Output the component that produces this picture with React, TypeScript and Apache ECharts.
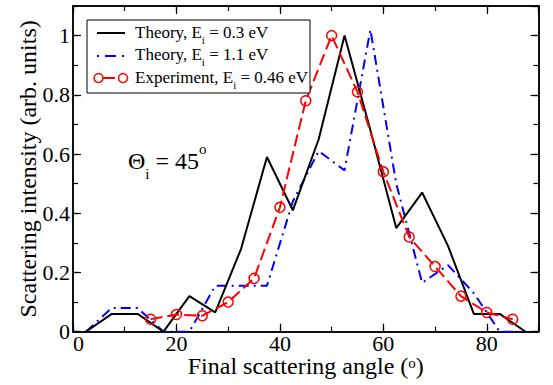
import React, { useEffect, useRef } from "react";
import * as echarts from "echarts";

// Theory curves are binned at 5-degree steps centred on 2.5, 7.5, ...
const theoryAngles = [2.5, 7.5, 12.5, 17.5, 22.5, 27.5, 32.5, 37.5, 42.5, 47.5, 52.5, 57.5, 62.5, 67.5, 72.5, 77.5, 82.5, 87.5];
const theoryLow = [0, 0.06, 0.06, 0, 0.12, 0.065, 0.28, 0.59, 0.41, 0.65, 1.0, 0.68, 0.35, 0.47, 0.29, 0.06, 0.06, 0];
const theoryHigh = [0, 0.08, 0.08, 0, 0, 0.155, 0.155, 0.155, 0.44, 0.61, 0.545, 1.02, 0.5, 0.165, 0.225, 0.13, 0, 0];

// Measured intensities
const expAngles = [15, 20, 25, 30, 35, 40, 45, 50, 55, 60, 65, 70, 75, 80, 85];
const expValues = [0.042, 0.058, 0.054, 0.1, 0.18, 0.42, 0.78, 1.0, 0.81, 0.54, 0.32, 0.22, 0.12, 0.065, 0.042];

const xTickLabels = ["0", "20", "40", "60", "80"];
const yTickLabels = ["0", "0.2", "0.4", "0.6", "0.8", "1"];

const FONT = "'Liberation Serif', 'Times New Roman', serif";

const zip = (xs: number[], ys: number[]) => xs.map((x, i) => [x, ys[i]]);

export default function App() {
  const ref = useRef<HTMLDivElement>(null);

  useEffect(() => {
    if (!ref.current) return;
    const chart = echarts.init(ref.current, null, { renderer: "svg" });

    const frameLine = { show: true, onZero: false, lineStyle: { color: "#000", width: 1.5 } };
    const tick = (len: number) => ({ show: true, inside: true, length: len, lineStyle: { color: "#000", width: 1.2 } });
    const noLabel = { show: false };
    const tickLabel = (list: string[]) => ({
      show: true,
      showMaxLabel: false,
      color: "#000",
      fontFamily: FONT,
      fontSize: 22,
      lineHeight: 18,
      formatter: (v: number) => {
        const s = String(Math.round(v * 10) / 10);
        return list.includes(s) ? s : "";
      },
    });

    const xAxis = (position: string, interval: number, tickLen: number, extra: any = {}) => ({
      type: "value",
      min: 0,
      max: 90,
      interval,
      position,
      axisLine: frameLine,
      axisTick: tick(tickLen),
      axisLabel: noLabel,
      splitLine: { show: false },
      ...extra,
    });
    const yAxis = (position: string, interval: number, tickLen: number, extra: any = {}) => ({
      type: "value",
      min: 0,
      max: 1.1,
      interval,
      position,
      axisLine: frameLine,
      axisTick: tick(tickLen),
      axisLabel: noLabel,
      splitLine: { show: false },
      ...extra,
    });

    const rich = {
      a: { fontFamily: FONT, fontSize: 24, color: "#000", lineHeight: 20, verticalAlign: "middle" },
      s: { fontFamily: FONT, fontSize: 15, color: "#000", lineHeight: 6, verticalAlign: "top" },
    };
    const legendRich = {
      a: { fontFamily: FONT, fontSize: 17, color: "#000", lineHeight: 26, verticalAlign: "middle" },
      s: { fontFamily: FONT, fontSize: 11, color: "#000", lineHeight: 11, verticalAlign: "bottom" },
    };
    const thetaRich = {
      a: { fontFamily: FONT, fontSize: 24, color: "#000", lineHeight: 40, verticalAlign: "middle" },
      s: { fontFamily: FONT, fontSize: 15, color: "#000", lineHeight: 15, verticalAlign: "bottom" },
      p: { fontFamily: FONT, fontSize: 15, color: "#000", lineHeight: 15, verticalAlign: "top" },
    };

    chart.setOption({
      animation: false,
      backgroundColor: "#fff",
      grid: { left: 73, right: 14.5, top: 6, bottom: 53.3, containLabel: false, outerBoundsMode: "none" },
      xAxis: [
        xAxis("bottom", 20, 8, {
          axisLabel: { ...tickLabel(xTickLabels), margin: 3, alignMinLabel: "left" },
          name: "{a|Final scattering angle (}{s|o}{a|)}",
          nameLocation: "middle",
          nameGap: 24,
          nameMoveOverlap: false,
          nameTextStyle: { rich, verticalAlign: "top" },
        }),
        xAxis("bottom", 10, 5),
        xAxis("top", 20, 8),
        xAxis("top", 10, 5),
      ],
      yAxis: [
        yAxis("left", 0.2, 8, {
          axisLabel: { ...tickLabel(yTickLabels), margin: 3 },
          name: "Scattering intensity (arb. units)",
          nameLocation: "middle",
          nameGap: 33,
          nameRotate: 90,
          nameMoveOverlap: false,
          nameTextStyle: { fontFamily: FONT, fontSize: 24, color: "#000" },
        }),
        yAxis("left", 0.1, 5),
        yAxis("right", 0.2, 8),
        yAxis("right", 0.1, 5),
      ],
      series: [
        {
          name: "Theory, Ei = 0.3 eV",
          type: "line",
          data: zip(theoryAngles, theoryLow),
          showSymbol: false,
          lineStyle: { color: "#000", width: 2 },
          itemStyle: { color: "#000" },
          z: 3,
        },
        {
          name: "Theory, Ei = 1.1 eV",
          type: "line",
          data: zip(theoryAngles, theoryHigh),
          showSymbol: false,
          lineStyle: { color: "#0000ff", width: 2, type: [10, 5, 2, 5] },
          itemStyle: { color: "#0000ff" },
          z: 2,
        },
        {
          name: "Experiment, Ei = 0.46 eV",
          type: "line",
          data: zip(expAngles, expValues),
          symbol: "circle",
          symbolSize: 10,
          showSymbol: true,
          lineStyle: { color: "#ff0000", width: 2, type: [12, 5] },
          itemStyle: { color: "rgba(0,0,0,0)", borderColor: "#ff0000", borderWidth: 1.5 },
          z: 4,
        },
      ],
      graphic: [
        {
          type: "rect",
          shape: { x: 87, y: 20, width: 223, height: 73 },
          style: { fill: "#fff", stroke: "#000", lineWidth: 1 },
          z: 10,
        },
        {
          type: "line",
          shape: { x1: 97, y1: 33, x2: 125, y2: 33 },
          style: { stroke: "#000", lineWidth: 2 },
          z: 11,
        },
        {
          type: "line",
          shape: { x1: 97, y1: 56, x2: 125, y2: 56 },
          style: { stroke: "#0000ff", lineWidth: 2, lineDash: [2, 6, 11, 6] },
          z: 11,
        },
        {
          type: "circle",
          shape: { cx: 98.5, cy: 78, r: 4.5 },
          style: { fill: "none", stroke: "#ff0000", lineWidth: 1.5 },
          z: 11,
        },
        {
          type: "line",
          shape: { x1: 103, y1: 78, x2: 115, y2: 78 },
          style: { stroke: "#ff0000", lineWidth: 2 },
          z: 11,
        },
        {
          type: "circle",
          shape: { cx: 123, cy: 78, r: 4.5 },
          style: { fill: "none", stroke: "#ff0000", lineWidth: 1.5 },
          z: 11,
        },
        {
          type: "text",
          x: 135,
          y: 32,
          style: { text: "{a|Theory, E}{s|i}{a| = 0.3 eV}", rich: legendRich, verticalAlign: "middle", align: "left" },
          z: 11,
        },
        {
          type: "text",
          x: 135,
          y: 54,
          style: { text: "{a|Theory, E}{s|i}{a| = 1.1 eV}", rich: legendRich, verticalAlign: "middle", align: "left" },
          z: 11,
        },
        {
          type: "text",
          x: 135,
          y: 77,
          style: { text: "{a|Experiment, E}{s|i}{a| = 0.46 eV}", rich: legendRich, verticalAlign: "middle", align: "left" },
          z: 11,
        },
        {
          type: "text",
          x: 128,
          y: 161,
          style: { text: "{a|Θ}{s|i}{a| = 45}{p|o}", rich: thetaRich, verticalAlign: "middle", align: "left" },
          z: 11,
        },
      ],
    });

    return () => chart.dispose();
  }, []);

  return <div ref={ref} style={{ width: 553, height: 385, position: "absolute", left: 0, top: 0 }} />;
}
